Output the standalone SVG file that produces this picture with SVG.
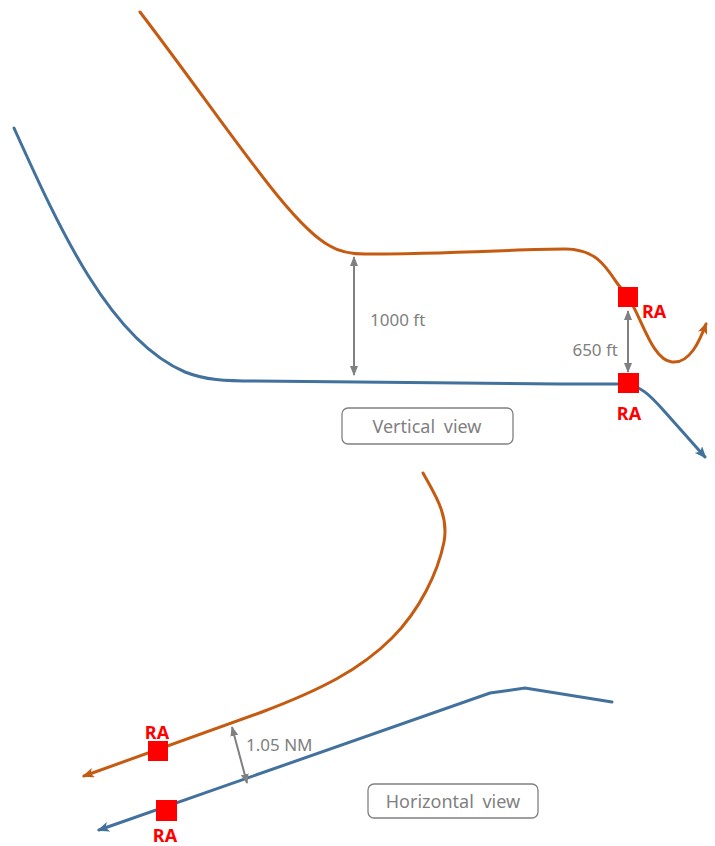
<svg xmlns="http://www.w3.org/2000/svg" width="715" height="846" viewBox="0 0 715 846">
<style>
.or{fill:none;stroke:#C55A11;stroke-width:3;stroke-linecap:round}
.bl{fill:none;stroke:#41719C;stroke-width:3;stroke-linecap:round}
.gr{fill:none;stroke:#808080;stroke-width:2}
.ra{fill:#FF0000}
.ral{font-family:"Noto Sans","Open Sans",sans-serif;font-weight:bold;font-size:18px;fill:#FF0000}
.dim{font-family:"Noto Sans","Open Sans",sans-serif;font-size:17px;fill:#808080}
.box{fill:#fff;stroke:#808080;stroke-width:1.3}
.lbl{font-family:"Noto Sans","Open Sans",sans-serif;font-size:18px;fill:#7F7F7F;word-spacing:4px}
</style>
<defs>
<marker id="ao" viewBox="0 0 12 10" refX="10" refY="5" markerWidth="12" markerHeight="10" markerUnits="userSpaceOnUse" orient="auto"><path d="M0,0 L12,5 L0,10 L3,5 z" fill="#C55A11"/></marker>
<marker id="ab" viewBox="0 0 12 10" refX="10" refY="5" markerWidth="12" markerHeight="10" markerUnits="userSpaceOnUse" orient="auto"><path d="M0,0 L12,5 L0,10 L3,5 z" fill="#41719C"/></marker>
<marker id="ag" viewBox="0 0 10 8" refX="9" refY="4" markerWidth="10" markerHeight="8" markerUnits="userSpaceOnUse" orient="auto-start-reverse"><path d="M0,0 L10,4 L0,8 z" fill="#808080"/></marker>
</defs>
<g id="connectors">
<path id="v-orange" class="or" marker-end="url(#ao)" d="M140,12 C230,130 290,225 330,246 Q343,254 365,254 C450,254 520,249 565,249 C595,249 605,265 617,283 L628,297 C642,318 652,360 672,362 C690,364 700,340 706,324"/>
<path id="v-blue" class="bl" marker-end="url(#ab)" d="M14,128 C60,230 110,340 185,372 C205,380 225,381 255,381 L560,384 L620,384 C640,384 650,395 665,412 L705,457"/>
<path id="h-orange" class="or" marker-end="url(#ao)" d="M423,473 C435,495 449,515 444,542 C438,572 420,610 392,638 C360,670 320,690 262,712 L84,776"/>
<path id="h-blue" class="bl" marker-end="url(#ab)" d="M612,702 L525,688 L490,693 L99,830"/>
<path id="d1000" class="gr" marker-start="url(#ag)" marker-end="url(#ag)" d="M354,257 L354,375"/>
<path id="d650" class="gr" marker-start="url(#ag)" marker-end="url(#ag)" d="M628,311 L628,372"/>
<path id="d105" class="gr" marker-start="url(#ag)" marker-end="url(#ag)" d="M232,727 L247,783"/>
</g>
<g id="ra1"><rect class="ra" x="618" y="287" width="20" height="20"/><text class="ral" x="642" y="318">RA</text></g>
<g id="ra2"><rect class="ra" x="618" y="373" width="21" height="20"/><text class="ral" x="629" y="420" text-anchor="middle">RA</text></g>
<g id="ra3"><rect class="ra" x="148" y="741" width="20" height="20"/><text class="ral" x="157" y="739" text-anchor="middle">RA</text></g>
<g id="ra4"><rect class="ra" x="156" y="800" width="21" height="21"/><text class="ral" x="165" y="842" text-anchor="middle">RA</text></g>
<g id="lbl1000"><text class="dim" x="370" y="326">1000 ft</text></g>
<g id="lbl650"><text class="dim" x="618" y="356" text-anchor="end">650 ft</text></g>
<g id="lbl105"><text class="dim" x="246" y="751">1.05 NM</text></g>
<g id="vview"><rect class="box" x="342" y="408" width="171" height="36" rx="6"/><text class="lbl" x="427" y="433" text-anchor="middle">Vertical view</text></g>
<g id="hview"><rect class="box" x="368" y="784" width="170" height="34" rx="6"/><text class="lbl" x="453" y="808" text-anchor="middle">Horizontal view</text></g>
</svg>
